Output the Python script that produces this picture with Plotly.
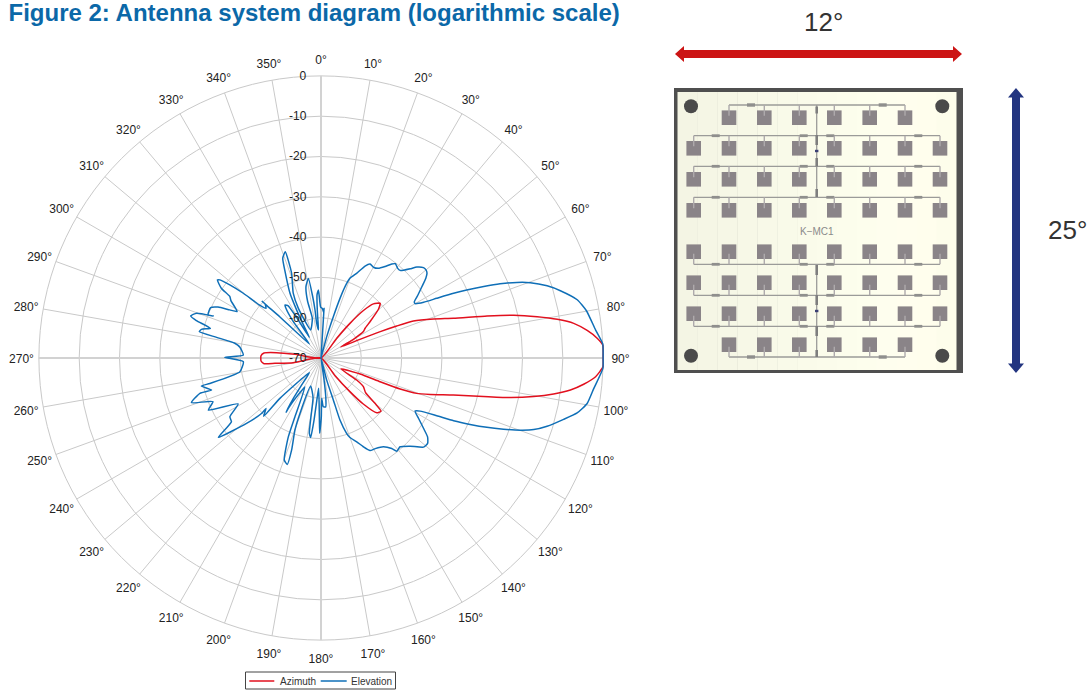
import math
import plotly.graph_objects as go

W, H = 1088, 691
FONT = "Liberation Sans"

# ---- data (degrees clockwise from north, dB) ----
spokes = [0, 90, 180, 270]
ring_ticks = [0, -10, -20, -30, -40, -50, -60, -70]
ring_labels = ["0", "-10", "-20", "-30", "-40", "-50", "-60", "-70"]
angle_ticks = list(range(0, 360, 10))
angle_labels = [f"{t}°" for t in angle_ticks]

azimuth_theta = [0, 38.5, 39.9, 41.8, 44.1, 47.2, 49.7, 53.4, 56, 58.1, 60, 60.8,
                 64.4, 66, 67.1, 68.2, 70.9, 73.3, 75.8, 77.5, 79.2, 80.7, 82.2, 84.1, 85.9, 87.4, 90,
                 91.8, 93.9, 95.7, 97.3, 98.8, 100.3, 101.8, 103.3, 105.6, 108.4, 110.3, 111.4, 111.9, 112.3, 118.5,
                 121.7, 124.1, 127.8, 130, 131.5, 134.5, 137.4, 139.3, 141.6, 145,
                 260.4, 263.4, 264.3, 267.1, 272.2, 275, 276.9, 278, 285]
azimuth_db = [-70, -63.8, -58.8, -54.2, -51.3, -50, -51.3, -54.8, -56.8, -57.6, -60.7, -64.4,
              -59.3, -53.9, -49.6, -45.3, -40.4, -35.7, -27.5, -21, -15.4, -10.6, -6.7, -3.6, -1.3, 0, 0,
              0, -1.7, -4.5, -7.6, -11.6, -16.4, -22, -28.6, -35.9, -41.4, -44.7, -48.9, -54.2, -59.5, -64.4,
              -59.6, -57.3, -56, -52.5, -50.1, -50.6, -54.5, -59, -64.4, -70,
              -63, -58.5, -55.8, -55.1, -55.1, -55.8, -58.9, -63.5, -70]

elevation_theta = [90, 87.15, 84.2, 79.9, 77.2, 74.3, 72.3, 70.2, 68.9, 67.5, 66.3, 65, 64, 62.7, 61.5, 60,
                   59, 57.2, 54.7, 52.7, 51.3, 50, 48.6, 46.5, 45, 43.2, 42.1, 40.4, 38.3, 37, 35, 32.6, 30, 27.6, 25.6,
                   22.8, 20, 18.6, 17.7, 16.6, 15, 14,
                   4, 3.5, 3.4, 1.5, 359.6, 358.4, 357.8, 356.4, 355.6, 355, 354.6, 352.9, 352.9, 352.3, 351, 348.1, 346.7, 347.7,
                   339.7, 335.5, 336.8, 340.9, 341.4, 339, 337.4, 334.4, 333.1, 331.7, 330.6,
                   328.8, 327.9, 325.8, 324.8, 322.7, 322, 320.2,
                   315, 314.1, 313.9, 314, 312.1, 310.8, 309.8, 308.7, 307.7, 307, 305, 304, 302.5, 299, 297.8, 296.3, 294.5,
                   290.9, 291.3, 289.8, 287.9, 286.7, 285, 283.5, 282.2, 281.2, 279.7, 277.5, 272.2, 270.4, 267.3, 260.4,
                   257.1, 256.8, 253.7, 253.7, 251, 248, 245.2, 241, 237.2, 234.5, 232.3, 228.7, 227, 227.5, 224.5, 225.5, 218.5,
                   215.6, 214.4, 212.8, 213, 212.2,
                   209.2, 203.9, 202.5, 199.8, 197.6, 197.7, 199.9, 200.8, 200.3,
                   191.4, 189.7, 188.8, 187.4, 186.4, 185.4, 184.4, 181.6, 181, 179.7, 179, 177.3, 174.5, 173, 171.9, 165,
                   165.6, 163.6, 163, 161.2, 160, 156.9, 154.5, 152.1, 149.1, 144.9, 142, 140.9, 138.3, 134.7, 131, 128.7,
                   126.5, 124.5, 121.8, 119.4, 118.2, 116.5, 115.3, 114, 112.7, 111.3, 109.9, 108.6, 106.8, 104.2, 102.1, 99.7, 96.4, 92.1, 90]
elevation_db = [0, 0, -1.5, -3.1, -4.8, -8.3, -11.1, -14.8, -17.9, -21.9, -25.9, -30.1, -33.4, -37.7, -41, -43,
                -43, -41.5, -39.3, -37.3, -36.3, -36, -36.1, -37.2, -38.7, -40.1, -40.7, -40.7, -40.2, -40.8, -42.3, -43.6, -44, -43.7, -44.7,
                -47.2, -48.9, -51.3, -54.4, -59.3, -64.5, -70,
                -70, -57.7, -58.7, -57.7, -57.4, -54.8, -53.1, -54.3, -58, -62.4, -63, -61.3, -58, -54.6, -50, -51.9, -55.6, -59.9,
                -62.6, -56.4, -52.5, -47.7, -42.2, -43.5, -46.8, -52.2, -56.6, -61.6, -64.1,
                -57.5, -54.7, -54.1, -54.9, -58.6, -62.2, -65.5,
                -55.6, -51.4, -49.6, -50.7, -51.6, -50, -44.9, -41, -38.3, -37.8, -39.8, -42.7, -43.5, -46.2, -44.4, -41.5, -39.9,
                -40, -41.3, -37.2, -36, -37.7, -41.6, -39.5, -39.1, -43.6, -48.3, -49.7, -50.7, -46.1, -50.7, -49.6,
                -41.7, -39.5, -41.7, -38.7, -36, -41.1, -39.2, -46.5, -43.1, -42.7, -37.8, -45.4, -49.8, -51.5, -49.7, -55.7, -65.4,
                -61.7, -57.8, -54, -55.1, -58.6,
                -61.8, -54, -48.8, -43.1, -42.3, -46, -51, -55.3, -62.6,
                -60, -55.2, -51.1, -50.1, -54.5, -60.3, -62.5, -55.4, -51.3, -55.4, -60, -57.9, -57.8, -60.3, -65.3, -70,
                -64.4, -59.1, -53.9, -50.2, -49, -47.4, -45.6, -44, -43.8, -43.1, -41.5, -40.2, -40.5, -38.9, -36.3, -36.1,
                -37.1, -39.1, -41.5, -43.2, -42.1, -37.9, -33.6, -29.5, -25.4, -21.4, -17.4, -14.3, -11.4, -7.9, -5, -3, -1.9, 0, 0]

# ---- board picture layout ----
pad_cols = [693.7, 729, 764.3, 799.3, 834.3, 869.7, 905, 940]
pad_rows = [117.7, 148.3, 179.3, 210.3, 251.7, 282.7, 313.7, 344.7]
feed_rows = [105, 135.7, 166.3, 197.3, 264.3, 295.3, 326.3, 357]
holes = [(691, 106.3), (942.3, 106.3), (691, 355.7), (942.3, 355.7)]
board_tints = ["#f4f5e4", "#f5f6e5", "#f6f7e6", "#f7f8e7", "#f8f9e8", "#f9fae9", "#fafbea",
               "#fbfceb", "#fcfdec", "#fdfeed", "#fefeee", "#fffeee", "#fffeed", "#fdfdeb"]

RED_LINE = "#e2101e"
BLUE_LINE = "#0f6fb7"

# angle labels sit on a circle 17.5 px outside the 0 dB ring, nudged down 2 px
PX_PER_DB = 4.03
label_r, label_theta = [], []
for t in angle_ticks:
    sx = 299.5 * math.sin(math.radians(t))
    sy = 299.5 * math.cos(math.radians(t)) - 2
    label_r.append(math.hypot(sx, sy) / PX_PER_DB - 70)
    label_theta.append(math.degrees(math.atan2(sx, sy)) % 360)


def px(x):
    return x / W


def py(y):
    return 1 - y / H


def rect(x0, y0, x1, y1, fill, **kw):
    return dict(type="rect", xref="paper", yref="paper", x0=px(x0), x1=px(x1), y0=py(y0), y1=py(y1),
                fillcolor=fill, line=dict(width=0), layer="above", **kw)


def seg(x0, y0, x1, y1, color, width):
    return dict(type="line", xref="paper", yref="paper", x0=px(x0), x1=px(x1), y0=py(y0), y1=py(y1),
                line=dict(color=color, width=width), layer="above")


def poly(points, fill):
    d = "M " + " L ".join(f"{px(x):.5f} {py(y):.5f}" for x, y in points) + " Z"
    return dict(type="path", xref="paper", yref="paper", path=d, fillcolor=fill, line=dict(width=0), layer="above")


shapes = [rect(674, 88, 963, 373, "#4f4f4f")]
strip = (956.5 - 677.5) / len(board_tints)
for k, tint in enumerate(board_tints):
    shapes.append(rect(677.5 + k * strip, 92, 677.5 + (k + 1) * strip + 0.5 if k < len(board_tints) - 1 else 956.5, 370, tint))
LINE = "#9b9b99"
for i, (ry, fy) in enumerate(zip(pad_rows, feed_rows)):
    cols = pad_cols[1:-1] if i in (0, 7) else pad_cols
    shapes.append(seg(cols[0], fy, cols[-1], fy, LINE, 1.3))
    if i in (0, 7):
        for xb in (751, 882.7):
            shapes.append(rect(xb - 4, fy - 1.7, xb + 4, fy + 1.7, "#8f8f8d"))
    else:
        for xb in (715.7, 803.7, 830.3, 918.3):
            shapes.append(rect(xb - 4, fy - 1.4, xb + 4, fy + 1.4, "#8f8f8d"))
    for cx in cols:
        shapes.append(rect(cx - 7.3, ry - 7.3, cx + 7.3, ry + 7.3, "#8a8488"))
        shapes.append(seg(cx, fy, cx, ry + (-2 if i < 4 else 2), "#aeaaac", 1.4))
shapes += [seg(816.7, 105, 816.7, 197.3, LINE, 1.3), seg(816.7, 264.3, 816.7, 357, LINE, 1.3)]
for y0, y1 in [(106.5, 113.5), (135, 145), (158, 166.5), (189, 197), (265, 275), (295, 305), (326, 336), (350, 357)]:
    shapes.append(rect(815.4, y0, 818, y1, "#7e7e7e"))
for yb in (151, 311):
    shapes.append(rect(815, yb - 1.2, 818.4, yb + 1.2, "#3b3f73"))
for hx, hy in holes:
    shapes.append(dict(type="circle", xref="paper", yref="paper", x0=px(hx - 7), x1=px(hx + 7), y0=py(hy - 7), y1=py(hy + 7),
                       fillcolor="#4a4a4a", line=dict(width=0), layer="above"))

RED = "#cc1414"
BLUE = "#233580"
shapes.append(poly([(675, 54), (684, 46), (684, 50), (953, 50), (953, 46), (962, 54),
                    (953, 62), (953, 58), (684, 58), (684, 62)], RED))
shapes.append(poly([(1016, 88), (1024, 97.5), (1020, 97.5), (1020, 363.5), (1024, 363.5), (1016, 373),
                    (1008, 363.5), (1012, 363.5), (1012, 97.5), (1008, 97.5)], BLUE))

# legend box, drawn to the reference's compact size
shapes.append(dict(type="rect", xref="paper", yref="paper", x0=px(245.5), x1=px(395.5), y0=py(672), y1=py(689),
                   fillcolor="white", line=dict(color="#444444", width=1), layer="above"))
shapes.append(seg(249.3, 681, 274.3, 681, RED_LINE, 1.5))
shapes.append(seg(320.7, 681, 346.7, 681, BLUE_LINE, 1.5))

GRID = "#c9c9c9"
AXIS = "#d2d2d2"
fig = go.Figure()
# spokes stop at the 0 dB ring; the radial range continues past it to hold the angle labels
for a in angle_ticks:
    fig.add_trace(go.Scatterpolar(r=[-70, 0], theta=[a, a], mode="lines", line=dict(color=GRID, width=1),
                                  showlegend=False, hoverinfo="skip"))
for a in spokes:
    fig.add_trace(go.Scatterpolar(r=[-70, 0], theta=[a, a], mode="lines", line=dict(color=AXIS, width=2),
                                  showlegend=False, hoverinfo="skip"))
fig.add_trace(go.Scatterpolar(r=azimuth_db, theta=azimuth_theta, mode="lines", name="Azimuth",
                              line=dict(color=RED_LINE, width=1.5, shape="spline", smoothing=0.5)))
fig.add_trace(go.Scatterpolar(r=elevation_db, theta=elevation_theta, mode="lines", name="Elevation",
                              line=dict(color=BLUE_LINE, width=1.5, shape="spline", smoothing=0.5)))
fig.add_trace(go.Scatterpolar(r=label_r, theta=label_theta, text=angle_labels, mode="text",
                              textposition="middle center", cliponaxis=False, showlegend=False, hoverinfo="skip",
                              textfont=dict(family=FONT, size=12, color="#222222")))


def label(text, x, y, size, color, anchor="center"):
    return dict(text=text, x=px(x), y=py(y), xref="paper", yref="paper", showarrow=False, xanchor=anchor,
                yanchor="middle", font=dict(family=FONT, size=size, color=color))


ann = [
    label("12°", 823, 22, 26, "#333333"),
    label("25°", 1067, 230, 26, "#333333"),
    label("K−MC1", 816.5, 231, 10, "#8a8a8a"),
    label("Azimuth", 278, 681.3, 10, "#333333", "left"),
    label("Elevation", 349, 681.3, 10, "#333333", "left"),
]

fig.update_layout(
    width=W, height=H, margin=dict(l=0, r=0, t=0, b=0), paper_bgcolor="white", plot_bgcolor="white",
    font=dict(family=FONT, size=12, color="#222222"), showlegend=False,
    title=dict(text="<b>Figure 2: Antenna system diagram (logarithmic scale)</b>", x=px(8.5), xanchor="left",
               xref="paper", y=py(12.5), yanchor="middle", font=dict(family=FONT, size=24, color="#0b68a8")),
    polar=dict(
        domain=dict(x=[px(18.75), px(623.25)], y=[py(660.25), py(55.75)]),
        bgcolor="rgba(0,0,0,0)",
        angularaxis=dict(direction="clockwise", rotation=90, tickmode="linear", tick0=0, dtick=10,
                         showgrid=False, showline=False, ticks="", showticklabels=False),
        radialaxis=dict(range=[-70, 5], angle=90, tickangle=90, side="counterclockwise", tickmode="array",
                        tickvals=ring_ticks, ticktext=ring_labels, gridcolor=GRID, gridwidth=1,
                        showline=False, ticks="outside", ticklen=10, tickcolor="rgba(0,0,0,0)",
                        tickfont=dict(size=12, color="#222222")),
    ),
    shapes=shapes, annotations=ann,
)
fig.write_html("out.html", config=dict(displayModeBar=False),
               post_script="document.body.style.margin='0';document.body.style.overflow='hidden';")
